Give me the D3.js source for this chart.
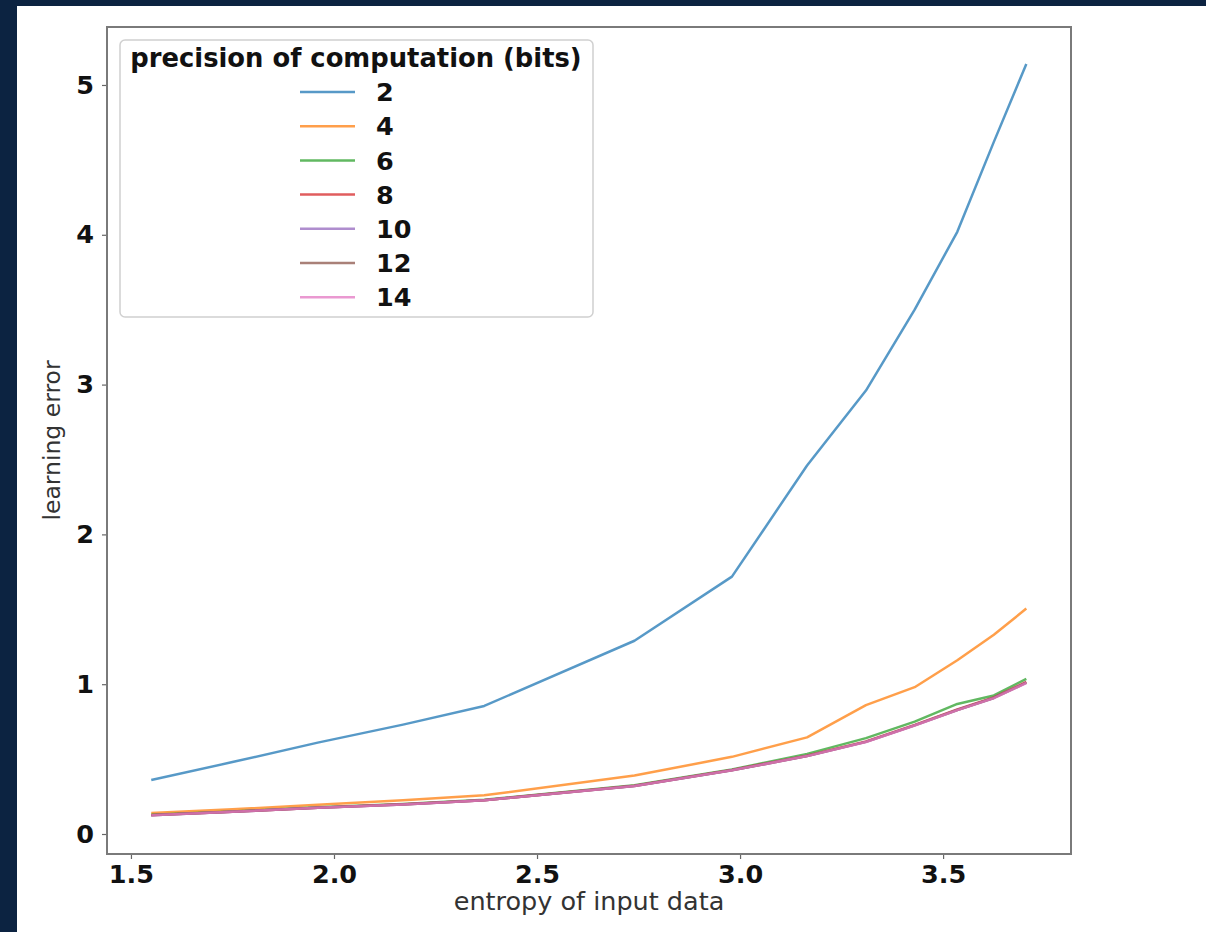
<!DOCTYPE html>
<meta charset="utf-8">
<head>
  <title>learning error vs entropy</title>
  <style>
    body { margin: 0; background: #0c2341; }
    svg { display: block; }
    text { font-family: "DejaVu Sans", sans-serif; }
  </style>
</head>
<body>
<script src="https://d3js.org/d3.v7.min.js"></script>
<script>
var WIDTH = 1206,
    HEIGHT = 932;

// entropy of input data (x)
var entropy = [1.55, 1.75, 1.96, 2.17, 2.37, 2.74, 2.98, 3.165, 3.31, 3.43, 3.535, 3.625, 3.705];

// learning error per precision (bits)
var bits = ["2", "4", "6", "8", "10", "12", "14"];
var err2  = [0.36, 0.48, 0.61, 0.73, 0.855, 1.29, 1.718, 2.46, 2.96, 3.50, 4.02, 4.62, 5.14];
var err4  = [0.14, 0.165, 0.195, 0.225, 0.258, 0.39, 0.515, 0.645, 0.86, 0.98, 1.16, 1.33, 1.505];
var err6  = [0.128, 0.15, 0.178, 0.2, 0.228, 0.325, 0.43, 0.535, 0.64, 0.75, 0.868, 0.925, 1.035];
var err8  = [0.126, 0.149, 0.176, 0.198, 0.226, 0.322, 0.427, 0.523, 0.618, 0.728, 0.832, 0.912, 1.015];
var err10 = [0.125, 0.148, 0.175, 0.197, 0.225, 0.32, 0.425, 0.52, 0.615, 0.725, 0.828, 0.908, 1.01];
var err12 = [0.125, 0.148, 0.175, 0.197, 0.225, 0.32, 0.425, 0.52, 0.615, 0.725, 0.828, 0.908, 1.01];
var err14 = [0.125, 0.148, 0.175, 0.197, 0.225, 0.32, 0.425, 0.52, 0.614, 0.724, 0.827, 0.907, 1.008];
var series = [err2, err4, err6, err8, err10, err12, err14];

var colors = ["#1f77b4", "#ff7f0e", "#2ca02c", "#d62728", "#9467bd", "#8c564b", "#e377c2"];

var xTicks = [1.5, 2.0, 2.5, 3.0, 3.5];
var yTicks = [0, 1, 2, 3, 4, 5];

var plot = {left: 107, right: 1071, top: 27, bottom: 854};

var svg = d3.select("body").append("svg")
    .attr("width", WIDTH)
    .attr("height", HEIGHT);

svg.append("rect")
    .attr("x", 17).attr("y", 6)
    .attr("width", WIDTH - 17).attr("height", HEIGHT - 6)
    .attr("fill", "#fff");

var x = d3.scaleLinear().domain([1.441, 3.815]).range([plot.left, plot.right]);
var y = d3.scaleLinear().domain([-0.1335, 5.387]).range([plot.bottom, plot.top]);

// axes
var xAxis = svg.append("g")
    .attr("transform", "translate(0," + plot.bottom + ")")
    .call(d3.axisBottom(x).tickValues(xTicks).tickFormat(d3.format(".1f")).tickSize(5).tickPadding(6).tickSizeOuter(0));

var yAxis = svg.append("g")
    .attr("transform", "translate(" + plot.left + ",0)")
    .call(d3.axisLeft(y).tickValues(yTicks).tickFormat(d3.format("d")).tickSize(5).tickPadding(8).tickSizeOuter(0));

[xAxis, yAxis].forEach(function(g) {
  g.select(".domain").remove();
  g.selectAll(".tick line").attr("stroke", "#666").attr("stroke-width", 1.2);
  g.selectAll(".tick text")
    .attr("fill", "#111")
    .style("font-size", "25.5px")
    .style("font-weight", "bold")
    .style("font-family", "'DejaVu Sans', sans-serif");
});

// frame
svg.append("rect")
    .attr("x", plot.left).attr("y", plot.top)
    .attr("width", plot.right - plot.left).attr("height", plot.bottom - plot.top)
    .attr("fill", "none")
    .attr("stroke", "#7a7a7a")
    .attr("stroke-width", 2);

// lines
var line = d3.line()
    .x(function(d) { return x(d[0]); })
    .y(function(d) { return y(d[1]); });

series.forEach(function(vals, i) {
  svg.append("path")
    .datum(entropy.map(function(e, j) { return [e, vals[j]]; }))
    .attr("d", line)
    .attr("fill", "none")
    .attr("stroke", colors[i])
    .attr("stroke-opacity", 0.75)
    .attr("stroke-width", 2.5)
    .attr("stroke-linejoin", "round");
});

// axis labels
svg.append("text")
    .attr("x", (plot.left + plot.right) / 2)
    .attr("y", 910)
    .attr("text-anchor", "middle")
    .attr("fill", "#333")
    .style("font-size", "25.5px")
    .text("entropy of input data");

svg.append("text")
    .attr("transform", "translate(60," + ((plot.top + plot.bottom) / 2) + ") rotate(-90)")
    .attr("text-anchor", "middle")
    .attr("fill", "#333")
    .style("font-size", "23.5px")
    .text("learning error");

// legend
var legend = svg.append("g");

legend.append("rect")
    .attr("x", 120).attr("y", 40)
    .attr("width", 473).attr("height", 277)
    .attr("rx", 5)
    .attr("fill", "#fff")
    .attr("fill-opacity", 0.8)
    .attr("stroke", "#d0d0d0")
    .attr("stroke-width", 1.5);

legend.append("text")
    .attr("x", 356).attr("y", 67)
    .attr("text-anchor", "middle")
    .attr("fill", "#111")
    .style("font-size", "25.8px")
    .style("font-weight", "bold")
    .text("precision of computation (bits)");

bits.forEach(function(b, i) {
  var ly = 92 + i * 34.2;
  legend.append("line")
    .attr("x1", 300).attr("x2", 355)
    .attr("y1", ly).attr("y2", ly)
    .attr("stroke", colors[i])
    .attr("stroke-opacity", 0.75)
    .attr("stroke-width", 2.5);
  legend.append("text")
    .attr("x", 376).attr("y", ly)
    .attr("dy", "0.36em")
    .attr("fill", "#111")
    .style("font-size", "25.5px")
    .style("font-weight", "bold")
    .text(b);
});
</script>
</body>
